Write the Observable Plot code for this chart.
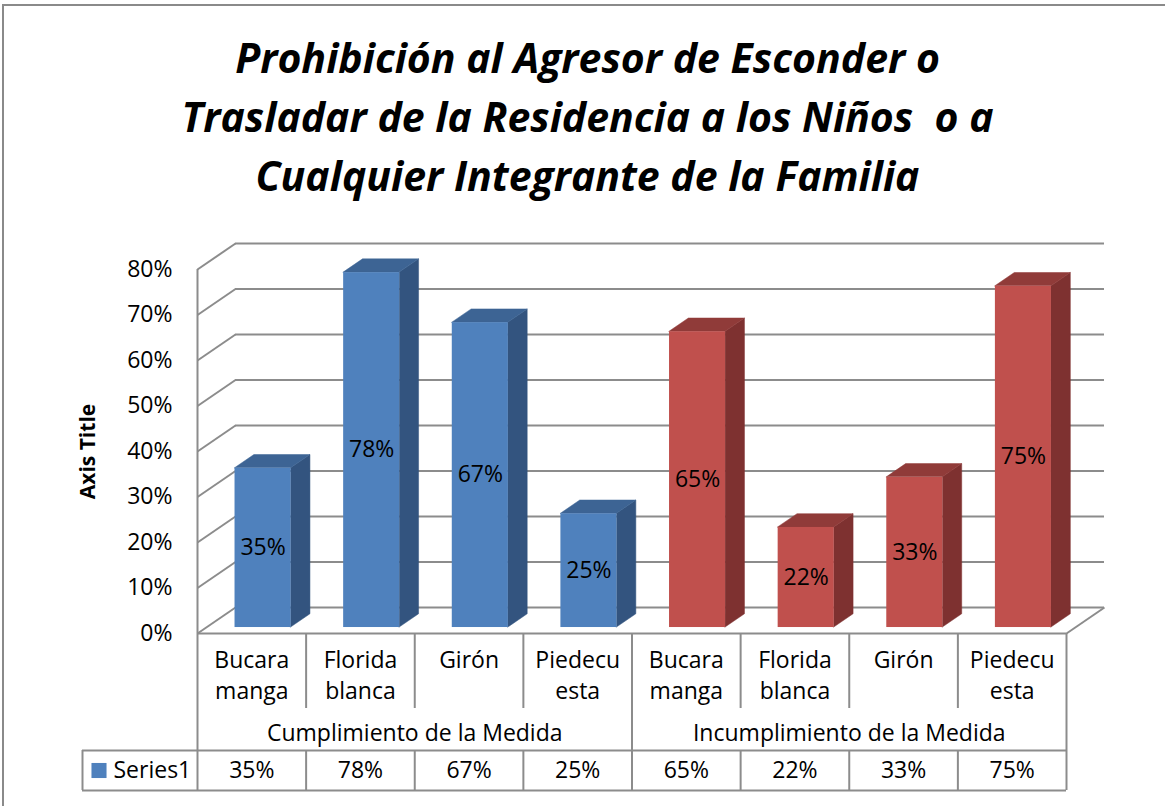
<!DOCTYPE html>
<html><head><meta charset="utf-8">
<script src="https://cdn.jsdelivr.net/npm/d3@7"></script>
<script src="https://cdn.jsdelivr.net/npm/@observablehq/plot@0.6"></script>
<style>
body{margin:0;background:#fff;}
#wrap{position:relative;width:1165px;height:806px;overflow:hidden;background:#fff;}
#frame{position:absolute;left:2px;top:4px;width:1300px;height:900px;border-left:2px solid #8a8a8a;border-top:2px solid #8a8a8a;}
#wrap svg{position:absolute;left:0;top:0;}
svg text{white-space:pre;}
</style></head><body><div id="wrap"><div id="frame"></div></div>
<script>
// ---- data ----
const titleLines = ["Prohibición al Agresor de Esconder o", "Trasladar de la Residencia a los Niños  o a", "Cualquier Integrante de la Familia"];
const municipios = ["Bucara\nmanga", "Florida\nblanca", "Girón", "Piedecu\nesta"];
const grupos = ["Cumplimiento de la Medida", "Incumplimiento de la Medida"];
const cumplimiento = [35, 78, 67, 25];
const incumplimiento = [65, 22, 33, 75];
const yTicks = [0, 10, 20, 30, 40, 50, 60, 70, 80];
const seriesName = "Series1";
const axisTitle = "Axis Title";

// ---- styles ----
const palettes = [
  {front: "#4F81BD", side: "#33547F", top: "#3D6494"},
  {front: "#C0504D", side: "#7E3130", top: "#903B39"}
];
const GRID = "#8c8c8c";
const FONT = "'Open Sans', sans-serif";
const FS = 23;

const rows = [];
[cumplimiento, incumplimiento].forEach((vals, g) => {
  vals.forEach((v, k) => {
    const i = g * municipios.length + k;
    rows.push({id: i, i, group: grupos[g], cat: municipios[k], value: v, ...palettes[g]});
  });
});
const nCols = rows.length;

// ---- layout ----
const X_RANGE = [197, 1066], Y_RANGE = [633, 269];
const kx = (X_RANGE[1] - X_RANGE[0]) / nCols;
const ky = (Y_RANGE[0] - Y_RANGE[1]) / 80;
const WALL_PX = [38, 26];                 // 3-D depth of the chart box
const ux = WALL_PX[0] / kx, uy = WALL_PX[1] / ky;
const F = 0.23, B = 0.74;                 // bar front / back depth fraction
const XL = 0.265, XR = 0.781;             // bar front face within its column

const sides = rows.flatMap(d => [
  {id: d.id, x: d.i + XR + F * ux, y1: F * uy, y2: d.value + F * uy, c: d.side},
  {id: d.id, x: d.i + XR + B * ux, y1: B * uy, y2: d.value + B * uy, c: d.side}
]);
const tops = rows.flatMap(d => [
  {id: d.id, y: d.value + F * uy, x1: d.i + XL + F * ux, x2: d.i + XR + F * ux, c: d.top},
  {id: d.id, y: d.value + B * uy, x1: d.i + XL + B * ux, x2: d.i + XR + B * ux, c: d.top}
]);

const chart = Plot.plot({
  width: 1165, height: 806, margin: 0,
  x: {type: "linear", domain: [0, nCols], range: X_RANGE, axis: null},
  y: {type: "linear", domain: [0, 80], range: Y_RANGE, axis: null},
  color: {type: "identity"},
  style: {fontFamily: FONT, background: "transparent", overflow: "visible"},
  marks: [
    // back wall grid + floor back edge
    Plot.ruleY(yTicks, {y: d => d, x1: 0, x2: nCols, dx: WALL_PX[0], dy: -WALL_PX[1], stroke: GRID, strokeWidth: 2}),
    // left wall diagonals
    Plot.link(yTicks, {x1: 0, y1: d => d, x2: ux, y2: d => d + uy, stroke: GRID, strokeWidth: 2}),
    // floor right diagonal and front edge
    Plot.link([nCols], {x1: d => d, y1: 0, x2: d => d + ux, y2: uy, stroke: GRID, strokeWidth: 2}),
    Plot.ruleY([0], {y: d => d, x1: 0, x2: nCols, stroke: GRID, strokeWidth: 2}),
    Plot.ruleX([0], {x: d => d, y1: 0, y2: 80, stroke: GRID, strokeWidth: 2}),
    // bars
    Plot.areaY(sides, {x: "x", y1: "y1", y2: "y2", z: "id", fill: "c", stroke: "c", strokeWidth: 0.5}),
    Plot.areaX(tops, {y: "y", x1: "x1", x2: "x2", z: "id", fill: "c", stroke: "c", strokeWidth: 0.5}),
    Plot.rect(rows, {x1: d => d.i + XL + F * ux, x2: d => d.i + XR + F * ux, y1: F * uy, y2: d => d.value + F * uy, fill: "front"}),
    // data labels
    Plot.text(rows, {x: d => d.i + (XL + XR) / 2 + F * ux, y: d => d.value / 2 + F * uy, text: d => d.value + "%", fontSize: FS, fill: "#000"}),
    // y tick labels
    Plot.text(yTicks, {x: 0, y: d => d, text: d => d + "%", textAnchor: "end", dx: -25, fontSize: FS, fill: "#000"}),
    // axis title
    Plot.text([axisTitle], {x: 0, y: 40, text: d => d, rotate: -90, dx: -109, fontSize: 21, fontWeight: "bold", fill: "#000"}),
    // chart title
    Plot.text([titleLines.join("\n")], {frameAnchor: "top", text: d => d, dx: 4.5, dy: 30.5, lineAnchor: "top", lineHeight: 59 / 41,
      fontSize: 41, fontWeight: "bold", fontStyle: "italic", fontFamily: "'Open Sans', sans-serif", fill: "#000"})
  ]
});

// ---- data table ----
const CAT_ROW = 75, GROUP_END = 117, DATA_END = 157;   // px below the floor
const LEG = 115 / kx;                                   // legend cell width
const groupCenters = grupos.map((g, j) => ({g, x: (j + 0.5) * municipios.length}));
const colEdges = d3.range(nCols + 1);
const groupEdges = d3.range(0, nCols + 1, municipios.length);

const table = Plot.plot({
  width: 1165, height: 806, margin: 0,
  x: {type: "linear", domain: [0, nCols], range: X_RANGE, axis: null},
  y: {type: "linear", domain: [0, DATA_END], range: [Y_RANGE[0], Y_RANGE[0] + DATA_END], axis: null},
  style: {fontFamily: FONT, background: "transparent", overflow: "visible"},
  marks: [
    Plot.ruleX(colEdges, {x: d => d, y1: 0, y2: CAT_ROW, stroke: GRID, strokeWidth: 2}),
    Plot.ruleX(groupEdges, {x: d => d, y1: CAT_ROW, y2: GROUP_END, stroke: GRID, strokeWidth: 2}),
    Plot.ruleX(colEdges, {x: d => d, y1: GROUP_END, y2: DATA_END, stroke: GRID, strokeWidth: 2}),
    Plot.ruleX([-LEG], {x: d => d, y1: GROUP_END, y2: DATA_END, stroke: GRID, strokeWidth: 2}),
    Plot.ruleY([GROUP_END, DATA_END], {y: d => d, x1: -LEG, x2: nCols, stroke: GRID, strokeWidth: 2}),
    Plot.text(rows, {x: d => d.i + 0.5, y: 12, text: "cat", lineAnchor: "top", lineHeight: 31 / FS, fontSize: FS, fill: "#000"}),
    Plot.text(groupCenters, {x: "x", y: 91, text: "g", lineAnchor: "top", fontSize: FS, fill: "#000"}),
    Plot.text(rows, {x: d => d.i + 0.5, y: 128, text: d => d.value + "%", lineAnchor: "top", fontSize: FS, fill: "#000"}),
    Plot.dot([seriesName], {x: -LEG, y: (GROUP_END + DATA_END) / 2, dx: 16.5, symbol: "square", r: 8.5, fill: palettes[0].front, stroke: "none"}),
    Plot.text([seriesName], {x: -LEG, y: (GROUP_END + DATA_END) / 2, text: d => d, dx: 31, textAnchor: "start", fontSize: FS, fill: "#000"})
  ]
});

const wrap = document.getElementById("wrap");
wrap.appendChild(chart);
wrap.appendChild(table);
</script>
</body></html>
